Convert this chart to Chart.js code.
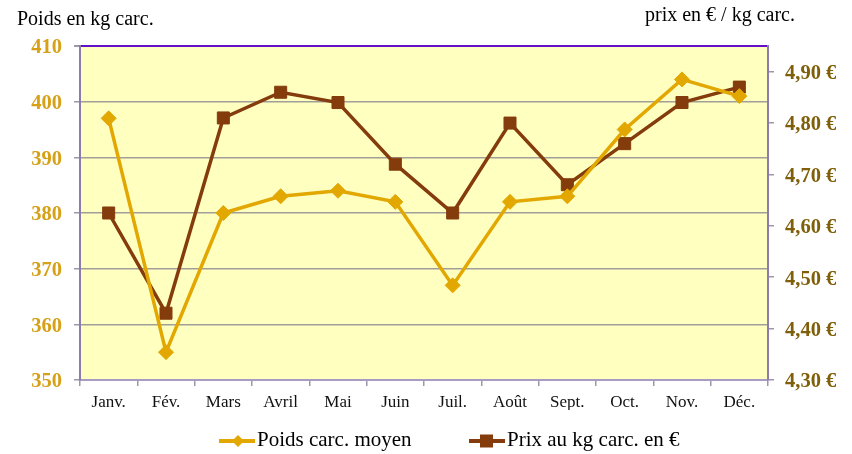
<!DOCTYPE html>
<html lang="fr">
<head>
<meta charset="utf-8">
<title>Poids et prix carcasse</title>
<script src="https://cdn.jsdelivr.net/npm/chart.js@4.4.1/dist/chart.umd.min.js"></script>
<style>
  html, body { margin: 0; padding: 0; background: #fff; }
  #cadre { position: relative; width: 852px; height: 454px; font-family: 'Liberation Serif', 'Times New Roman', serif; color: #000; }
  #graphique { position: absolute; left: 0; top: 0; }
  .titre-axe { position: absolute; font-size: 20px; line-height: 1; white-space: nowrap; }
  .legende { position: absolute; top: 429px; height: 21px; width: 240px; font-size: 21px; line-height: 1; white-space: nowrap; }
  .legende svg { position: absolute; left: 0; top: 4px; }
  .legende span { position: absolute; left: 38px; top: 0; }
</style>
</head>
<body>
<div id="cadre">
  <canvas id="graphique" width="852" height="454"></canvas>
  <div class="titre-axe" style="left:17px; top:8px;">Poids en kg carc.</div>
  <div class="titre-axe" style="left:645px; top:4px;">prix en € / kg carc.</div>
</div>

<script>
// Données mensuelles
const mois = ['Janv.', 'Fév.', 'Mars', 'Avril', 'Mai', 'Juin', 'Juil.', 'Août', 'Sept.', 'Oct.', 'Nov.', 'Déc.'];
const poidsMoyen = [397, 355, 380, 383, 384, 382, 367, 382, 383, 395, 404, 401];
const prixKg = [4.625, 4.43, 4.81, 4.86, 4.84, 4.72, 4.625, 4.80, 4.68, 4.76, 4.84, 4.87];

// Graduations des deux axes
const ticksPoids = [350, 360, 370, 380, 390, 400, 410];
const ticksPrix = [4.30, 4.40, 4.50, 4.60, 4.70, 4.80, 4.90];

const POLICE = "'Liberation Serif', 'Times New Roman', serif";
const OR = '#E2A700';
const BRUN = '#843C0C';

// Fond jaune pâle de la zone de tracé
const fondZone = {
  id: 'fondZone',
  beforeDraw(chart) {
    const { ctx, chartArea: a } = chart;
    ctx.save();
    ctx.fillStyle = '#FFFFC0';
    ctx.fillRect(a.left, a.top, a.right - a.left, a.bottom - a.top);
    ctx.restore();
  }
};

const graphique = new Chart(document.getElementById('graphique'), {
  type: 'line',
  data: {
    labels: mois,
    datasets: [{
      label: 'Poids carc. moyen',
      data: poidsMoyen,
      yAxisID: 'y',
      borderColor: OR,
      backgroundColor: OR,
      borderWidth: 3.5,
      pointStyle: 'rectRot',
      pointRadius: 7.5,
      pointBorderWidth: 1,
      tension: 0
    }, {
      label: 'Prix au kg carc. en €',
      data: prixKg,
      yAxisID: 'y1',
      borderColor: BRUN,
      backgroundColor: BRUN,
      borderWidth: 3.5,
      pointStyle: 'rect',
      pointRadius: 8.5,
      pointBorderWidth: 1,
      tension: 0
    }]
  },
  options: {
    responsive: false,
    animation: false,
    layout: { padding: { top: 46, bottom: 44, left: 0, right: 0 } },
    plugins: {
      legend: { display: false },
      tooltip: { enabled: false }
    },
    scales: {
      x: {
        offset: true,
        grid: { offset: true, drawOnChartArea: false, tickLength: 6, color: '#9d97ad', lineWidth: 1.5 },
        border: { color: '#a99cc4', width: 2 },
        ticks: { color: '#111', font: { family: POLICE, size: 17 }, padding: 6, maxRotation: 0, autoSkip: false },
        afterFit(s) { s.height = 30; }
      },
      y: {
        position: 'left',
        min: 350,
        max: 410,
        afterBuildTicks(s) { s.ticks = ticksPoids.map(v => ({ value: v })); },
        grid: {
          color: c => (c.tick && c.tick.value === 410) ? '#6410C8' : '#a29f9a',
          lineWidth: c => (c.tick && c.tick.value === 410) ? 2 : 1.5,
          tickColor: '#9d97ad',
          tickLength: 6
        },
        border: { color: '#8c7cab', width: 2 },
        ticks: { color: '#D6A017', font: { family: POLICE, size: 20.5, weight: 'bold' }, padding: 12, labelOffset: 2 },
        afterFit(s) { s.width = 80; }
      },
      y1: {
        position: 'right',
        min: 4.30,
        max: 4.95,
        afterBuildTicks(s) { s.ticks = ticksPrix.map(v => ({ value: v })); },
        grid: { drawOnChartArea: false, tickLength: 6, color: '#9d97ad', lineWidth: 1.5 },
        border: { color: '#8c7cab', width: 2 },
        ticks: {
          color: '#7F5F0A',
          font: { family: POLICE, size: 20.5, weight: 'bold' },
          padding: 11,
          labelOffset: 2,
          callback: v => v.toFixed(2).replace('.', ',') + ' €'
        },
        afterFit(s) { s.width = 84; }
      }
    }
  },
  plugins: [fondZone]
});

// Légende en bas : trait + marqueur de chaque série
function construireLegende(chart) {
  const cadre = document.getElementById('cadre');
  const positions = [219, 469];
  chart.data.datasets.forEach((ds, i) => {
    const item = document.createElement('div');
    item.className = 'legende';
    item.style.left = positions[i] + 'px';
    const marque = ds.pointStyle === 'rectRot'
      ? `<polygon points="19,2 25,8 19,14 13,8" fill="${ds.backgroundColor}"/>`
      : `<rect x="11" y="1.5" width="13" height="13" fill="${ds.backgroundColor}"/>`;
    item.innerHTML = `<svg width="36" height="16" viewBox="0 0 36 16">` +
      `<line x1="0" y1="8" x2="36" y2="8" stroke="${ds.borderColor}" stroke-width="4"/>${marque}</svg>` +
      `<span>${ds.label}</span>`;
    cadre.appendChild(item);
  });
}

construireLegende(graphique);
</script>
</body>
</html>
